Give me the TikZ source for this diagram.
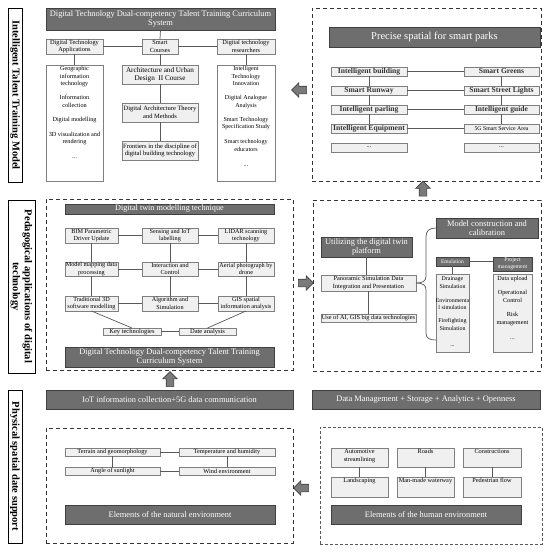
\documentclass[tikz,border=0pt]{standalone}
\usepackage{fontspec}
\setmainfont{Liberation Serif}
\usetikzlibrary{shapes.arrows}
\definecolor{dkf}{HTML}{6E6E6E}
\definecolor{dkb}{HTML}{404040}
\definecolor{ltf}{HTML}{F0F0F0}
\definecolor{ltb}{HTML}{7F7F7F}
\definecolor{lnc}{HTML}{595959}
\definecolor{arf}{HTML}{7A7A7A}
\newcommand\mybox[7]{\node[#1, minimum width={(#5-#3)*1pt}, minimum height={(#6-#4)*1pt}] (#2) at ({(#3+#5)/2},{(#4+#6)/2}) {#7};}
\newcommand\fsz[2]{\fontsize{#1}{#2}\selectfont}
\begin{document}
\begin{tikzpicture}[x=1pt,y=-1pt,
 base/.style={inner sep=0pt, outer sep=0pt, align=center, line width=0.6pt},
 dark/.style={base, draw=dkb, fill=dkf, text=white},
 light/.style={base, draw=ltb, fill=ltf},
 wbox/.style={base, draw=ltb, fill=white},
 lab/.style={base, draw=black, line width=0.7pt, fill=white, font=\bfseries\fsz{10.5}{12}, rotate=-90},
 dpanel/.style={base, draw=black!80, line width=0.9pt, dash pattern=on 4pt off 3pt},
 dpanel2/.style={base, draw=black!65, line width=0.6pt, dash pattern=on 3pt off 2pt},
 conn/.style={draw=lnc, line width=0.7pt},
 blk/.style={single arrow, draw=dkb, fill=arf, line width=0.6pt, inner sep=3.5pt, single arrow head extend=3.5pt, minimum height=15pt, outer sep=0pt},
 hd/.style={font=\fsz{8.4}{9.6}},
 sm/.style={font=\fsz{6.3}{7.5}},
 bt/.style={light, text=black!80, font=\bfseries\fsz{7.6}{8}},
 gd/.style={light, font=\fsz{6.2}{7.3}},
]
\useasboundingbox (0,0) rectangle (550,552);
\fill[white] (0,0) rectangle (550,552);

% side labels
\node[lab, minimum width=174pt, minimum height=14pt] (L1) at (15,95) {Intelligent Talent Training Model};
\node[lab, minimum width=173pt, minimum height=27pt] (L2) at (21.5,286.5) {Pedagogical applications of digital\\technology};
\node[lab, minimum width=153pt, minimum height=14pt] (L3) at (15,466.5) {Physical spatial date support};

% ---------- top left
\mybox{dark,hd}{H1}{46}{8}{275}{30}{Digital Technology Dual-competency Talent Training Curriculum\\System}
\mybox{light,sm}{A1}{46}{39}{103}{54}{Digital Technology\\Applications}
\mybox{light,sm}{A2}{142}{39}{178}{54}{Smart\\Courses}
\mybox{light,sm}{A3}{217}{39}{275}{54}{Digital technology\\researchers}
\mybox{wbox}{C1}{46}{65}{103}{181}{}
\mybox{wbox}{C3}{217}{65}{275}{181}{}
\mybox{light,font=\fsz{7.2}{7.8}}{M1}{122}{65}{198}{84}{Architecture and Urban\\Design~~II Course}
\mybox{light,font=\fsz{6.5}{7.8}}{M2}{122}{103}{198}{122}{Digital Architecture Theory\\and Methods}
\mybox{light,font=\fsz{6.5}{7.8}}{M3}{122}{141}{198}{160}{Frontiers in the discipline of\\digital building technology}
\node[base, font=\fsz{6.2}{7.5}, anchor=north] (C1t) at (74.5,66.5) {Geographic\\information\\technology\\[6.5pt]Information\\collection\\[7pt]Digital modelling\\[7pt]3D visualization and\\rendering\\[7pt]...};
\node[base, font=\fsz{6.1}{7.5}, anchor=north] (C3t) at (246,66.5) {Intelligent\\Technology\\Innovation\\[6.5pt]Digital Analogue\\Analysis\\[6.5pt]Smart Technology\\Specification Study\\[7.5pt]Smart technology\\educators\\[7.5pt]...};
\draw[conn] (H1.south) -- (A2.north);
\draw[conn] (A1.east) -- (A2.west);
\draw[conn] (A2.east) -- (A3.west);
\draw[conn] (A1.south) -- (C1.north);
\draw[conn] (A2.south) -- (M1.north);
\draw[conn] (M1.south) -- (M2.north);
\draw[conn] (M2.south) -- (M3.north);
\draw[conn] (A3.south) -- (C3.north);

% ---------- top right
\mybox{dpanel}{P0}{312}{8}{541}{181}{}
\mybox{dark,font=\fsz{10.5}{12}}{PH}{329}{27}{540}{47}{Precise spatial for smart parks}
\mybox{bt}{PL1}{331}{67}{407}{76}{Intelligent building}
\mybox{bt}{PR1}{464}{67}{539}{76}{Smart Greens}
\mybox{bt}{PL2}{331}{86}{407}{95}{Smart Runway}
\mybox{bt}{PR2}{464}{86}{539}{95}{Smart Street Lights}
\mybox{bt}{PL3}{331}{105}{407}{114}{Intelligent parling}
\mybox{bt}{PR3}{464}{105}{539}{114}{Intelligent guide}
\mybox{bt}{PL4}{331}{124}{407}{133}{Intelligent Equipment}
\mybox{light,font=\fsz{5.8}{6}}{PR4}{464}{124}{539}{133}{5G Smart Service Area}
\mybox{light,sm}{PL5}{331}{143}{407}{152}{...}
\mybox{light,sm}{PR5}{464}{143}{539}{152}{...}
\foreach \i in {1,...,4} {\draw[conn] (PL\i.east) -- (PR\i.west);}
\foreach \i/\j in {1/2,2/3,3/4} {\draw[conn] (PL\i.south) -- (PL\j.north); \draw[conn] (PR\i.south) -- (PR\j.north);}

% ---------- block arrows
\node[blk, shape border rotate=180] (ARa) at (301,90) {};
\node[blk, shape border rotate=90] (ARb) at (423,190.5) {};
\node[blk] (ARc) at (304,283) {};
\node[blk, shape border rotate=90] (ARd) at (170,381) {};
\node[blk, shape border rotate=180] (ARe) at (303,488) {};

% ---------- middle left
\mybox{dpanel}{Q0}{46}{199}{293}{370}{}
\mybox{dark,font=\fsz{8.2}{9}}{QH}{65}{204}{274}{214}{Digital twin modelling technique}
\mybox{gd}{G11}{65}{228}{118}{243}{BIM Parametric\\Driver Update}
\mybox{gd}{G12}{142}{228}{198}{243}{Sensing and IoT\\labelling}
\mybox{gd}{G13}{218}{228}{274}{243}{LIDAR scanning\\technology}
\mybox{gd}{G21}{65}{262}{118}{276}{Model mapping data\\processing}
\mybox{gd}{G22}{142}{262}{198}{276}{Interaction and\\Control}
\mybox{gd}{G23}{218}{262}{274}{276}{Aerial photograph by\\drone}
\mybox{gd}{G31}{65}{296}{118}{311}{Traditional 3D\\software modelling}
\mybox{gd}{G32}{142}{296}{198}{311}{Algorithm and\\Simulation}
\mybox{gd}{G33}{218}{296}{274}{311}{GIS spatial\\information analysis}
\mybox{light,font=\fsz{6.5}{7}}{KT}{103}{328}{161}{335}{Key technologies}
\mybox{light,font=\fsz{6.5}{7}}{DA}{179}{328}{236}{335}{Date analysis}
\mybox{dark,hd}{QB}{65}{347}{274}{367}{Digital Technology Dual-competency Talent Training\\Curriculum System}
\foreach \r in {1,2,3} {\draw[conn] (G\r1.east) -- (G\r2.west); \draw[conn] (G\r2.east) -- (G\r3.west);}
\foreach \c in {1,2,3} {\draw[conn] (G1\c.south) -- (G2\c.north); \draw[conn] (G2\c.south) -- (G3\c.north);}
\draw[conn] (G31.south) -- (KT.north);
\draw[conn] (G33.south) -- (DA.north);
\draw[conn] (KT.east) -- (DA.west);

% ---------- middle right
\mybox{dpanel}{S0}{313}{200}{541}{371}{}
\mybox{dark,hd}{MC}{436}{218}{538}{238}{Model construction and\\calibration}
\mybox{dark,hd}{UT}{321}{237}{412}{257}{Utilizing the digital twin\\platform}
\mybox{light,font=\fsz{6.3}{7.5}}{PA}{321}{275}{416}{291}{Panoramic Simulation Data\\Integration and Presentation}
\mybox{light,font=\fsz{6.3}{7}}{AI}{321}{314}{416}{322}{Use of AI, GIS big data technologies}
\mybox{dark,font=\fsz{5.5}{6}}{EM}{436}{257}{469}{266}{Emulation}
\mybox{dark,font=\fsz{5.8}{6.6}}{PM}{493}{257}{532}{271}{Project\\management}
\mybox{light}{EL}{436}{274}{469}{352}{}
\mybox{light}{PLs}{493}{274}{532}{352}{}
\node[base, font=\fsz{5.9}{7.8}, anchor=north] (ELt) at (452.5,276.5) {Drainage\\Simulation\\[6pt]Environmenta\\l simulation\\[5pt]Firefighting\\Simulation\\[8pt]...};
\node[base, font=\fsz{6.2}{7.8}, anchor=north] (PLt) at (512.5,276.5) {Data upload\\[6pt]Operational\\Control\\[6pt]Risk\\management\\[8pt]...};
\coordinate (BT) at (436,340);
\draw[conn] (MC.west) .. controls (429,228) and (426,231) .. (426,237) -- (426,276) .. controls (426,281) and (423,283) .. (PA.east);
\draw[conn] (PA.east) .. controls (423,283) and (426,285) .. (426,290) -- (426,333) .. controls (426,338) and (429,340) .. (BT);
\draw[conn] (UT.south) -- (UT.south |- PA.north);
\draw[conn] (PA.south) -- (AI.north);
\draw[conn] (EM.east) -- (EM.east -| PM.west);
\draw[conn] (EM.south) -- (EL.north);

% ---------- bottom
\mybox{dark,hd}{IOT}{46}{390}{293}{409}{IoT information collection+5G data communication}
\mybox{dark,hd}{DM}{312}{390}{540}{409}{Data Management + Storage + Analytics + Openness}
\mybox{dpanel}{N0}{46}{428}{293}{543}{}
\mybox{light,sm}{T1}{65}{448}{160}{456}{Terrain and geomorphology}
\mybox{light,sm}{T2}{179}{448}{275}{456}{Temperature and humidity}
\mybox{light,sm}{T3}{65}{467}{160}{475}{Angle of sunlight}
\mybox{light,sm}{T4}{179}{467}{275}{475}{Wind environment}
\draw[conn] (T1.east) -- (T2.west);
\draw[conn] (T3.east) -- (T4.west);
\draw[conn] (T1.south) -- (T3.north);
\draw[conn] (T2.south) -- (T4.north);
\mybox{dark,hd}{NE}{65}{505}{275}{524}{Elements of the natural environment}

\mybox{dpanel2}{U0}{320}{427}{542}{544}{}
\mybox{light}{U1}{331}{448}{388}{467}{}
\mybox{light}{U2}{397}{448}{454}{467}{}
\mybox{light}{U3}{463}{448}{521}{467}{}
\mybox{light}{U4}{331}{477}{388}{497}{}
\mybox{light}{U5}{397}{477}{454}{497}{}
\mybox{light}{U6}{463}{477}{521}{497}{}
\node[base, sm, anchor=north, yshift=-1.5pt] (U1t) at (U1.north) {Automotive\\streamlining};
\node[base, sm, anchor=north, yshift=-1.5pt] (U2t) at (U2.north) {Roads};
\node[base, sm, anchor=north, yshift=-1.5pt] (U3t) at (U3.north) {Constructions};
\node[base, sm, anchor=north, yshift=-1.5pt] (U4t) at (U4.north) {Landscaping};
\node[base, sm, anchor=north, yshift=-1.5pt] (U5t) at (U5.north) {Man-made waterway};
\node[base, sm, anchor=north, yshift=-1.5pt] (U6t) at (U6.north) {Pedestrian flow};
\draw[conn] (U1.south) -- (U4.north);
\draw[conn] (U2.south) -- (U5.north);
\draw[conn] (U3.south) -- (U6.north);
\mybox{dark,hd}{HE}{331}{505}{521}{524}{Elements of the human environment}
\end{tikzpicture}
\end{document}
